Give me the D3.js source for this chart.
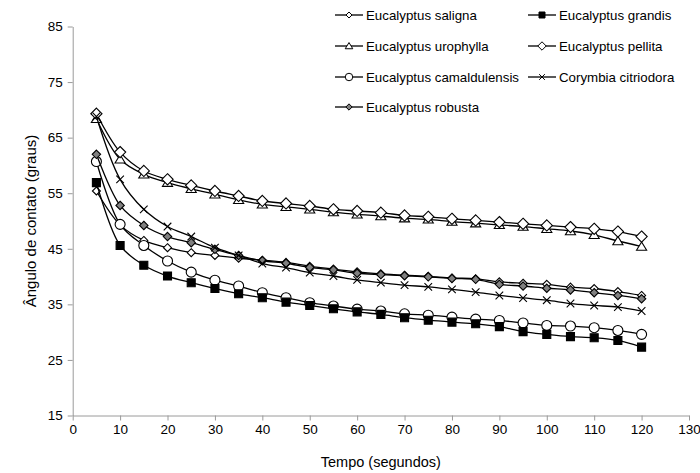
<!DOCTYPE html>
<html>
<head>
<meta charset="utf-8">
<script src="https://cdn.jsdelivr.net/npm/d3@7"></script>
<style>
  html, body { margin: 0; padding: 0; background: #fff; }
  svg { display: block; font-family: "Liberation Sans", Arial, sans-serif; }
</style>
</head>
<body>
<svg id="chart" width="700" height="473"></svg>
<script>
// ---- data ----
const tempo = [5, 10, 15, 20, 25, 30, 35, 40, 45, 50, 55, 60, 65, 70, 75, 80, 85, 90, 95, 100, 105, 110, 115, 120];

const saligna = [55.4, 49.3, 46.5, 45.2, 44.3, 43.8, 43.3, 42.95, 42.55, 41.85, 41.35, 40.85, 40.5, 40.25, 40.05, 39.75, 39.6, 39.05, 38.8, 38.6, 38.1, 37.85, 37.3, 36.6];
const grandis = [56.9, 45.6, 42.05, 40.1, 38.9, 37.85, 36.9, 36.2, 35.4, 34.8, 34.2, 33.65, 33.2, 32.6, 32.15, 31.8, 31.5, 31.0, 30.1, 29.6, 29.2, 29.0, 28.5, 27.3];
const urophylla = [68.4, 61.1, 58.4, 56.9, 55.8, 54.8, 53.8, 53.0, 52.55, 52.1, 51.6, 51.2, 50.9, 50.5, 50.3, 49.9, 49.6, 49.3, 49.0, 48.6, 48.2, 47.5, 46.4, 45.4];
const pellita = [69.3, 62.4, 59.0, 57.5, 56.4, 55.4, 54.5, 53.6, 53.15, 52.7, 52.1, 51.8, 51.5, 51.0, 50.75, 50.4, 50.1, 49.8, 49.5, 49.2, 48.9, 48.6, 48.1, 47.2];
const camaldulensis = [60.7, 49.4, 45.6, 42.8, 40.8, 39.35, 38.3, 37.1, 36.2, 35.3, 34.7, 34.15, 33.8, 33.3, 33.05, 32.7, 32.35, 32.1, 31.65, 31.2, 31.1, 30.8, 30.3, 29.6];
const citriodora = [68.8, 57.5, 52.1, 49.0, 47.2, 45.2, 43.8, 42.35, 41.6, 40.7, 40.1, 39.4, 38.9, 38.45, 38.15, 37.7, 37.2, 36.6, 36.15, 35.75, 35.15, 34.8, 34.5, 33.8];
const robusta = [62.0, 52.8, 49.2, 47.2, 46.1, 44.9, 43.8, 42.85, 42.4, 41.65, 41.2, 40.6, 40.35, 40.15, 39.95, 39.65, 39.5, 38.6, 38.3, 37.9, 37.6, 37.1, 36.6, 36.0];

const seriesNames = ["Eucalyptus saligna", "Eucalyptus urophylla", "Eucalyptus camaldulensis", "Eucalyptus robusta",
                     "Eucalyptus grandis", "Eucalyptus pellita", "Corymbia citriodora"];
const seriesValues = [saligna, urophylla, camaldulensis, robusta, grandis, pellita, citriodora];

const xTicks = [0, 10, 20, 30, 40, 50, 60, 70, 80, 90, 100, 110, 120, 130];
const yTicks = [15, 25, 35, 45, 55, 65, 75, 85];
const xTitle = "Tempo (segundos)";
const yTitle = "Ângulo de contato (graus)";

// ---- styles ----
const markerStyle = {
  "Eucalyptus saligna":       { shape: "diamond",  r: 4,   fill: "#fff" },
  "Eucalyptus grandis":       { shape: "square",   r: 4,   fill: "#000" },
  "Eucalyptus urophylla":     { shape: "triangle", r: 4.6, fill: "#fff" },
  "Eucalyptus pellita":       { shape: "diamond",  r: 5.6, fill: "#fff" },
  "Eucalyptus camaldulensis": { shape: "circle",   r: 5,   fill: "#fff" },
  "Corymbia citriodora":      { shape: "cross",    r: 3.8, fill: "none" },
  "Eucalyptus robusta":       { shape: "diamond",  r: 4.2, fill: "#808080" }
};
const legendLayout = [
  ["Eucalyptus saligna", 0, 0], ["Eucalyptus grandis", 1, 0],
  ["Eucalyptus urophylla", 0, 1], ["Eucalyptus pellita", 1, 1],
  ["Eucalyptus camaldulensis", 0, 2], ["Corymbia citriodora", 1, 2],
  ["Eucalyptus robusta", 0, 3]
];

function markerPath(shape, r) {
  switch (shape) {
    case "diamond": return `M0,${-r}L${r},0L0,${r}L${-r},0Z`;
    case "square": return `M${-r},${-r}H${r}V${r}H${-r}Z`;
    case "triangle": return `M0,${-r}L${r * 1.1},${r * 0.8}L${-r * 1.1},${r * 0.8}Z`;
    case "circle": return `M${r},0A${r},${r} 0 1,1 ${-r},0A${r},${r} 0 1,1 ${r},0Z`;
    case "cross": return `M${-r},${-r}L${r},${r}M${-r},${r}L${r},${-r}`;
  }
}

// ---- chart ----
(function () {
const svg = d3.select("#chart");
const mLeft = 72.7, mRight = 689, mTop = 26.5, mBottom = 415.5;
const x = d3.scaleLinear().domain([0, 130]).range([mLeft, mRight]);
const y = d3.scaleLinear().domain([15, 85]).range([mBottom, mTop]);

const axisColor = "#9a9a9a";

const gx = svg.append("g").attr("transform", `translate(0,${mBottom})`)
  .call(d3.axisBottom(x).tickValues(xTicks).tickSize(5).tickPadding(4).tickSizeOuter(0));
const gy = svg.append("g").attr("transform", `translate(${mLeft},0)`)
  .call(d3.axisLeft(y).tickValues(yTicks).tickSize(5).tickPadding(5).tickSizeOuter(0));
[gx, gy].forEach(g => {
  g.select(".domain").attr("stroke", axisColor).attr("stroke-width", 1);
  g.selectAll(".tick line").attr("stroke", axisColor);
  g.selectAll(".tick text").attr("fill", "#000").style("font-size", "13.5px")
   .style("font-family", '"Liberation Sans", Arial, sans-serif');
});

svg.append("text").attr("x", (mLeft + mRight) / 2).attr("y", 467)
  .attr("text-anchor", "middle").style("font-size", "14.5px").text(xTitle);
svg.append("text").attr("transform", `translate(36,${(mTop + mBottom) / 2}) rotate(-90)`)
  .attr("text-anchor", "middle").style("font-size", "15px").text(yTitle);

const line = d3.line().x((d, i) => x(tempo[i])).y(d => y(d)).curve(d3.curveCatmullRom.alpha(0.5));

const plot = svg.append("g");
seriesNames.forEach((name, si) => {
  const vals = seriesValues[si];
  const st = markerStyle[name];
  const g = plot.append("g");
  g.append("path").attr("d", line(vals)).attr("fill", "none").attr("stroke", "#000").attr("stroke-width", 1.3);
  g.selectAll("path.m").data(vals).join("path").attr("class", "m")
    .attr("transform", (d, i) => `translate(${x(tempo[i])},${y(d)})`)
    .attr("d", markerPath(st.shape, st.r))
    .attr("fill", st.fill).attr("stroke", "#000").attr("stroke-width", 1.1);
});

// ---- legend ----
const colX = [335, 528], rowY = [15, 46, 77, 107];
const legend = svg.append("g");
legendLayout.forEach(([name, c, r]) => {
  const st = markerStyle[name];
  const g = legend.append("g").attr("transform", `translate(${colX[c]},${rowY[r]})`);
  g.append("line").attr("x1", 0).attr("x2", 28).attr("stroke", "#000").attr("stroke-width", 1.3);
  g.append("path").attr("transform", "translate(14,0)")
    .attr("d", markerPath(st.shape, st.r * 0.75))
    .attr("fill", st.fill).attr("stroke", "#000").attr("stroke-width", 1);
  g.append("text").attr("x", 31).attr("dy", "0.35em").style("font-size", "13.3px").text(name);
});
})();
</script>
</body>
</html>
